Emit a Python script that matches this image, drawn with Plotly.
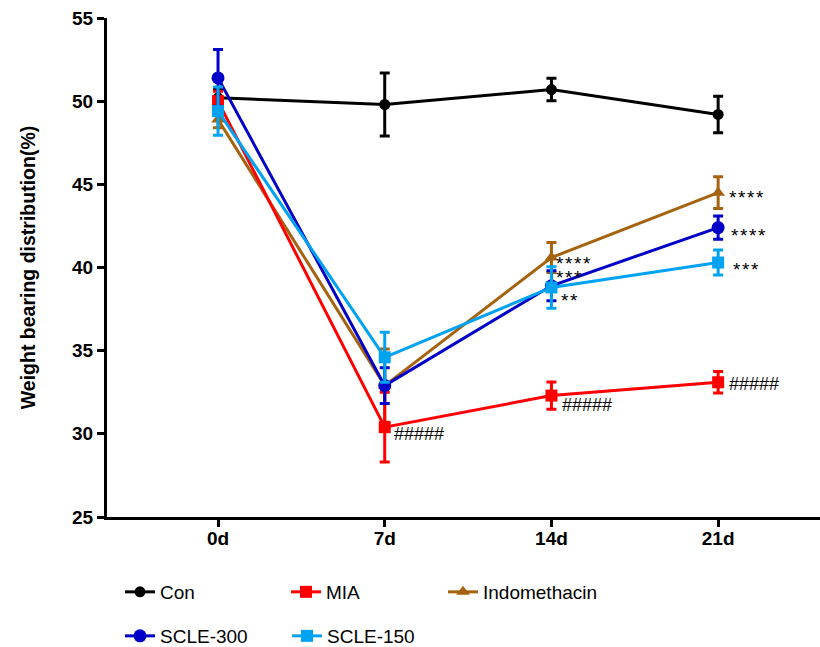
import plotly.graph_objects as go

days = ["0d", "7d", "14d", "21d"]
x_pos = [0, 1, 2, 3]

con = [50.2, 49.8, 50.7, 49.2]
con_sd = [0.5, 1.9, 0.68, 1.1]
mia = [50.0, 30.4, 32.3, 33.1]
mia_sd = [0.6, 2.1, 0.82, 0.64]
indo = [48.9, 32.9, 40.6, 44.5]
indo_sd = [0.5, 2.2, 0.9, 0.95]
scle300 = [51.4, 32.9, 38.9, 42.4]
scle300_sd = [1.7, 1.07, 0.9, 0.7]
scle150 = [49.4, 34.6, 38.8, 40.3]
scle150_sd = [1.45, 1.5, 1.25, 0.75]

# significance labels: day index, label y value, text
sig_x = [3, 3, 3, 2, 2, 2, 1, 2, 3]
sig_y = [44.54, 42.31, 40.27, 40.63, 39.73, 38.40, 29.98, 31.73, 32.99]
sig_text = ["****", "****", "***", "****", "***", "**", "#####", "#####", "#####"]
sig_shift = [9, 11, 13, 3, 3, 8, 7, 9, 9]

FONT = "Liberation Sans, Arial, sans-serif"

# name, values, sd, colour, symbol, marker size, legend id, legend line start px, legend row y px
series = [
    ("Indomethacin", indo, indo_sd, "#A5620F", "triangle-up", 12, "legend3", 449, 592),
    ("Con", con, con_sd, "#000000", "circle", 11, "legend", 126, 592),
    ("MIA", mia, mia_sd, "#FF0000", "square", 12, "legend2", 292, 592),
    ("SCLE-300", scle300, scle300_sd, "#0000C8", "circle", 13, "legend4", 126, 636),
    ("SCLE-150", scle150, scle150_sd, "#00A2F2", "square", 12, "legend5", 293, 636),
]

fig = go.Figure()
legends = {}
for name, vals, sd, color, sym, msize, leg, lx, ly in series:
    fig.add_trace(go.Scatter(
        x=x_pos, y=vals, name=name, mode="lines+markers",
        line=dict(color=color, width=3),
        marker=dict(color=color, symbol=sym, size=msize),
        error_y=dict(type="data", array=sd, visible=True, color=color,
                     thickness=3, width=5),
        legend=leg,
    ))
    legends[leg] = dict(orientation="h", xref="container", yref="container",
                        x=(lx - 6) / 820, y=1 - ly / 647,
                        xanchor="left", yanchor="middle", itemwidth=30,
                        font=dict(family=FONT, size=19, color="black"),
                        bgcolor="rgba(0,0,0,0)")

for xi, yi, t, sh in zip(sig_x, sig_y, sig_text, sig_shift):
    is_hash = t.startswith("#")
    label = t if is_hash else "\u200a".join(t)
    fig.add_annotation(x=xi, y=yi, xref="x", yref="y", text=label,
                       showarrow=False, xanchor="left", yanchor="middle",
                       xshift=sh, yshift=0 if is_hash else -6,
                       font=dict(family=FONT, size=18 if is_hash else 19,
                                 color="black"))

fig.update_layout(
    width=820, height=647,
    margin=dict(l=107, r=0, t=18, b=130),
    plot_bgcolor="white", paper_bgcolor="white",
    font=dict(family=FONT, color="black"),
    showlegend=True,
    **legends,
    xaxis=dict(range=[-0.666, 3.611], tickvals=x_pos, ticktext=days,
               automargin=False, ticklabelstandoff=-5,
               showline=True, linecolor="black", linewidth=3,
               ticks="outside", ticklen=7, tickwidth=3, tickcolor="black",
               showgrid=False, zeroline=False,
               tickfont=dict(family=FONT, size=19, color="black", weight="bold")),
    yaxis=dict(range=[25, 55], tickvals=[25, 30, 35, 40, 45, 50, 55],
               automargin=False,
               showline=True, linecolor="black", linewidth=3,
               ticks="outside", ticklen=7, tickwidth=3, tickcolor="black",
               showgrid=False, zeroline=False,
               tickfont=dict(family=FONT, size=19, color="black", weight="bold"),
               title=dict(text="Weight bearing distribution(%)",
                          font=dict(family=FONT, size=19.5, color="black", weight="bold"),
                          standoff=32)),
)

fig.write_html("out.html", config={"displayModeBar": False},
               post_script="document.body.style.margin='0px';")
